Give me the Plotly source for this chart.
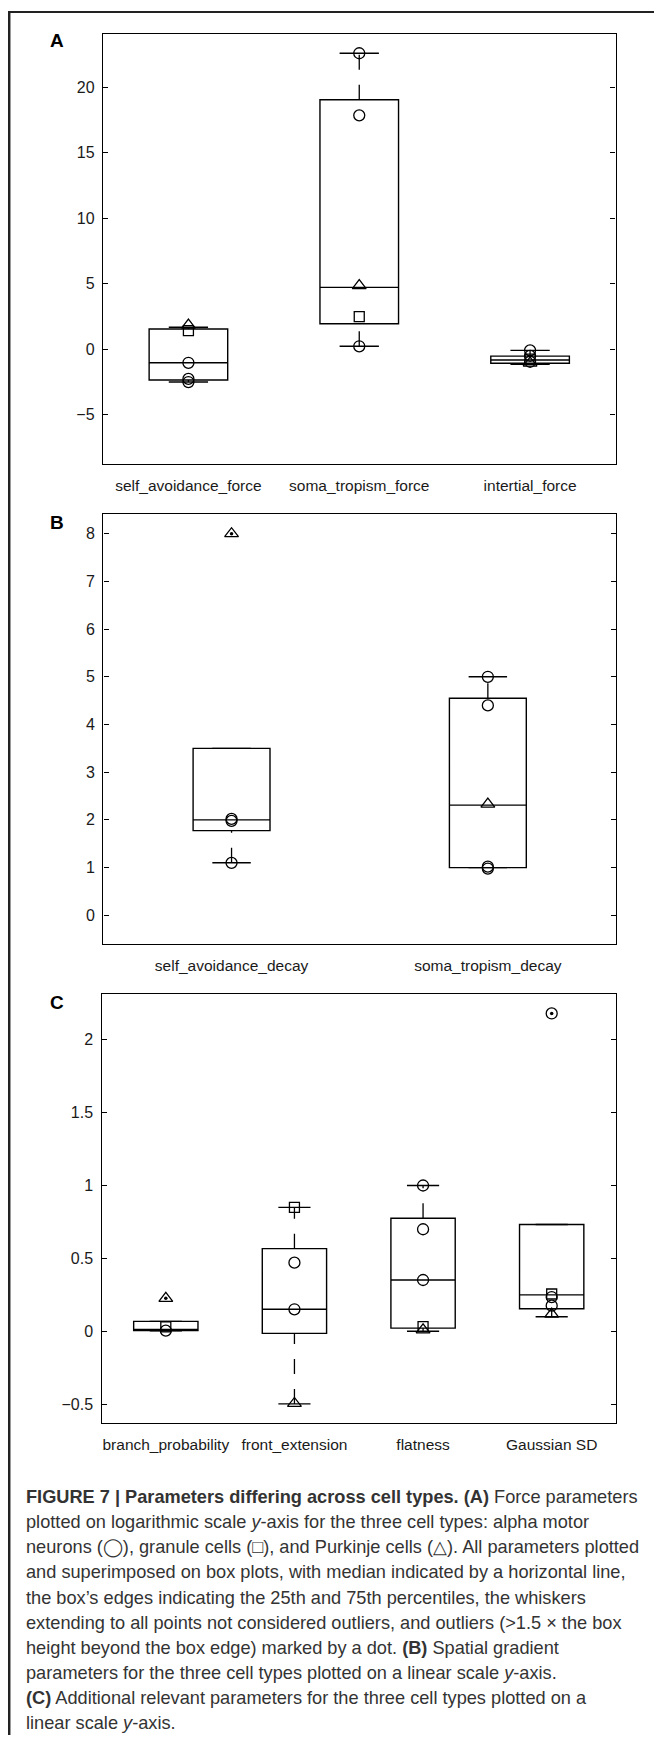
import plotly.graph_objects as go

# page is 662x1743; the plotly div sits inside the default 8px body margin
PAGE_OFF = 8
W, H = 646, 1727

# ---------------- Panel A : force parameters ----------------
a_cats = ["self_avoidance_force", "soma_tropism_force", "intertial_force"]
a_q1 = [-2.34, 1.95, -1.07]
a_med = [-1.03, 4.73, -0.82]
a_q3 = [1.55, 19.05, -0.52]
a_lo = [-2.50, 0.23, -1.15]
a_hi = [1.68, 22.6, -0.08]
a_circ = [[-1.03, -2.26, -2.50], [22.6, 17.86, 0.23], [-0.08, -0.50, -0.95]]
a_sq = [[1.42], [2.49], [-0.75]]
a_tri = [[1.85], [4.86], [-1.05]]
a_out = [[], [], []]
a_yticks = [-5, 0, 5, 10, 15, 20]
a_yticktext = ["−5", "0", "5", "10", "15", "20"]
a_yrange = [-8.78, 24.07]

# ---------------- Panel B : spatial gradient parameters ----------------
b_cats = ["self_avoidance_decay", "soma_tropism_decay"]
b_q1 = [1.775, 1.0]
b_med = [2.0, 2.31]
b_q3 = [3.50, 4.55]
b_lo = [1.10, 1.0]
b_hi = [3.50, 5.0]
b_circ = [[2.02, 1.98, 1.10], [5.0, 4.40, 1.02, 0.98]]
b_sq = [[], []]
b_tri = [[8.0], [2.33]]
b_out = [[8.0], []]
b_yticks = [0, 1, 2, 3, 4, 5, 6, 7, 8]
b_yticktext = ["0", "1", "2", "3", "4", "5", "6", "7", "8"]
b_yrange = [-0.602, 8.413]

# ---------------- Panel C : additional parameters ----------------
c_cats = ["branch_probability", "front_extension", "flatness", "Gaussian SD"]
c_q1 = [0.005, -0.014, 0.022, 0.155]
c_med = [0.010, 0.151, 0.352, 0.250]
c_q3 = [0.068, 0.567, 0.775, 0.733]
c_lo = [0.003, -0.498, 0.0, 0.100]
c_hi = [0.068, 0.850, 1.0, 0.733]
c_circ = [[0.005], [0.471, 0.151], [1.0, 0.70, 0.352], [2.18, 0.235, 0.176]]
c_sq = [[0.030], [0.850], [0.032], [0.256]]
c_tri = [[0.226], [-0.495], [0.010], [0.118]]
c_out = [[0.226], [], [], [2.18]]
c_yticks = [-0.5, 0, 0.5, 1, 1.5, 2]
c_yticktext = ["−0.5", "0", "0.5", "1", "1.5", "2"]
c_yrange = [-0.631, 2.3155]

FONT = "Liberation Sans, Arial, Helvetica, sans-serif"
INK = "#1a1a1a"


def px_x(x):
    return (x - PAGE_OFF) / W


def px_y(y):
    return 1 - (y - PAGE_OFF) / H


fig = go.Figure()


def add_panel(idx, cats, q1, med, q3, lo, hi, circ, sq, tri, out, bw):
    xa = "x" if idx == 1 else "x%d" % idx
    ya = "y" if idx == 1 else "y%d" % idx
    pos = list(range(1, len(cats) + 1))
    # boxes (whiskers drawn separately, dashed)
    fig.add_trace(go.Box(
        x=pos, q1=q1, median=med, q3=q3, lowerfence=q1, upperfence=q3,
        width=bw, whiskerwidth=0, line=dict(color="black", width=1.4),
        fillcolor="rgba(0,0,0,0)", boxpoints=False, hoverinfo="skip",
        showlegend=False, xaxis=xa, yaxis=ya))
    # dashed whiskers (drawn upward: lower fence -> q1, q3 -> upper fence)
    wx, wy = [], []
    for p, a, b, c, d in zip(pos, lo, q1, q3, hi):
        if b > a:
            wx += [p, p, None]
            wy += [a, b, None]
        if d > c:
            wx += [p, p, None]
            wy += [c, d, None]
    fig.add_trace(go.Scatter(x=wx, y=wy, mode="lines",
                             line=dict(color="black", width=1.3, dash="15px,15px"),
                             hoverinfo="skip", showlegend=False, xaxis=xa, yaxis=ya))
    # whisker caps
    cx, cy = [], []
    for p, a, d in zip(pos, lo, hi):
        for v in (a, d):
            cx += [p - bw / 4, p + bw / 4, None]
            cy += [v, v, None]
    fig.add_trace(go.Scatter(x=cx, y=cy, mode="lines",
                             line=dict(color="black", width=1.4),
                             hoverinfo="skip", showlegend=False, xaxis=xa, yaxis=ya))

    def flat(groups):
        xs, ys = [], []
        for p, g in zip(pos, groups):
            for v in g:
                xs.append(p)
                ys.append(v)
        return xs, ys

    for groups, sym, size in ((circ, "circle-open", 11),
                              (sq, "square-open", 10),
                              (tri, "triangle-up-open", 12)):
        xs, ys = flat(groups)
        fig.add_trace(go.Scatter(x=xs, y=ys, mode="markers",
                                 marker=dict(symbol=sym, size=size, color="black",
                                             line=dict(color="black", width=1.3)),
                                 hoverinfo="skip", showlegend=False, xaxis=xa, yaxis=ya))
    xs, ys = flat(out)
    fig.add_trace(go.Scatter(x=xs, y=ys, mode="markers",
                             marker=dict(symbol="circle", size=3.5, color="black"),
                             hoverinfo="skip", showlegend=False, xaxis=xa, yaxis=ya))
    return pos


panels = [
    (a_cats, a_q1, a_med, a_q3, a_lo, a_hi, a_circ, a_sq, a_tri, a_out, 0.46,
     a_yticks, a_yticktext, a_yrange, (103, 615.5, 34, 464.3)),
    (b_cats, b_q1, b_med, b_q3, b_lo, b_hi, b_circ, b_sq, b_tri, b_out, 0.30,
     b_yticks, b_yticktext, b_yrange, (103.4, 616, 514, 944)),
    (c_cats, c_q1, c_med, c_q3, c_lo, c_hi, c_circ, c_sq, c_tri, c_out, 0.50,
     c_yticks, c_yticktext, c_yrange, (101.5, 616, 993.7, 1423.3)),
]

layout = dict(
    width=W, height=H, margin=dict(l=0, r=0, t=0, b=0),
    paper_bgcolor="white", plot_bgcolor="white", showlegend=False,
    font=dict(family=FONT, size=15.5, color=INK),
)

for i, (cats, q1, med, q3, lo, hi, circ, sq, tri, out, bw,
        yt, ytt, yr, (x0, x1, y0, y1)) in enumerate(panels, start=1):
    pos = add_panel(i, cats, q1, med, q3, lo, hi, circ, sq, tri, out, bw)
    xk = "xaxis" if i == 1 else "xaxis%d" % i
    yk = "yaxis" if i == 1 else "yaxis%d" % i
    ya = "y" if i == 1 else "y%d" % i
    xa = "x" if i == 1 else "x%d" % i
    layout[xk] = dict(
        domain=[px_x(x0), px_x(x1)], anchor=ya, range=[0.5, len(cats) + 0.5],
        tickmode="array", tickvals=pos, ticktext=cats, ticks="",
        showline=True, linecolor="black", linewidth=1.4, mirror=True,
        showgrid=False, zeroline=False, ticklabelstandoff=7,
        tickfont=dict(family=FONT, size=15.5, color=INK), fixedrange=True)
    layout[yk] = dict(
        domain=[px_y(y1), px_y(y0)], anchor=xa, range=yr,
        tickmode="array", tickvals=yt, ticktext=ytt, ticks="inside", ticklen=5,
        tickcolor="black", tickwidth=1.1,
        showline=True, linecolor="black", linewidth=1.4, mirror="ticks",
        showgrid=False, zeroline=False, ticklabelstandoff=4,
        tickfont=dict(family=FONT, size=16, color=INK), fixedrange=True)

fig.update_layout(**layout)

# panel letters
for letter, yy in (("A", 40), ("B", 522.7), ("C", 1002.7)):
    fig.add_annotation(text="<b>%s</b>" % letter, x=px_x(57), y=px_y(yy),
                       xref="paper", yref="paper", showarrow=False,
                       xanchor="center", yanchor="middle",
                       font=dict(family=FONT, size=19, color="black"))

# outer frame (left and top rules)
fig.add_shape(type="line", xref="paper", yref="paper",
              x0=px_x(9.2), x1=px_x(9.2), y0=px_y(11), y1=0,
              line=dict(color="#222", width=2.5))
fig.add_shape(type="line", xref="paper", yref="paper",
              x0=px_x(8), x1=1, y0=px_y(12), y1=px_y(12),
              line=dict(color="#222", width=2.2))

# caption
caption_lines = [
    "<b>FIGURE 7 | Parameters differing across cell types. (A)</b> Force parameters",
    "plotted on logarithmic scale <i>y</i>-axis for the three cell types: alpha motor",
    "neurons (◯), granule cells (□), and Purkinje cells (△). All parameters plotted",
    "and superimposed on box plots, with median indicated by a horizontal line,",
    "the box’s edges indicating the 25th and 75th percentiles, the whiskers",
    "extending to all points not considered outliers, and outliers (&gt;1.5 × the box",
    "height beyond the box edge) marked by a dot. <b>(B)</b> Spatial gradient",
    "parameters for the three cell types plotted on a linear scale <i>y</i>-axis.",
    "<b>(C)</b> Additional relevant parameters for the three cell types plotted on a",
    "linear scale <i>y</i>-axis.",
]
caption_y = [1496.7, 1521.5, 1547, 1572, 1597.7, 1623, 1648, 1673, 1698, 1723]
for txt, yy in zip(caption_lines, caption_y):
    fig.add_annotation(text=txt, x=px_x(24), y=px_y(yy), xref="paper", yref="paper",
                       showarrow=False, xanchor="left", yanchor="middle",
                       font=dict(family=FONT, size=18.2, color="#333"))

fig.write_html("out.html")
